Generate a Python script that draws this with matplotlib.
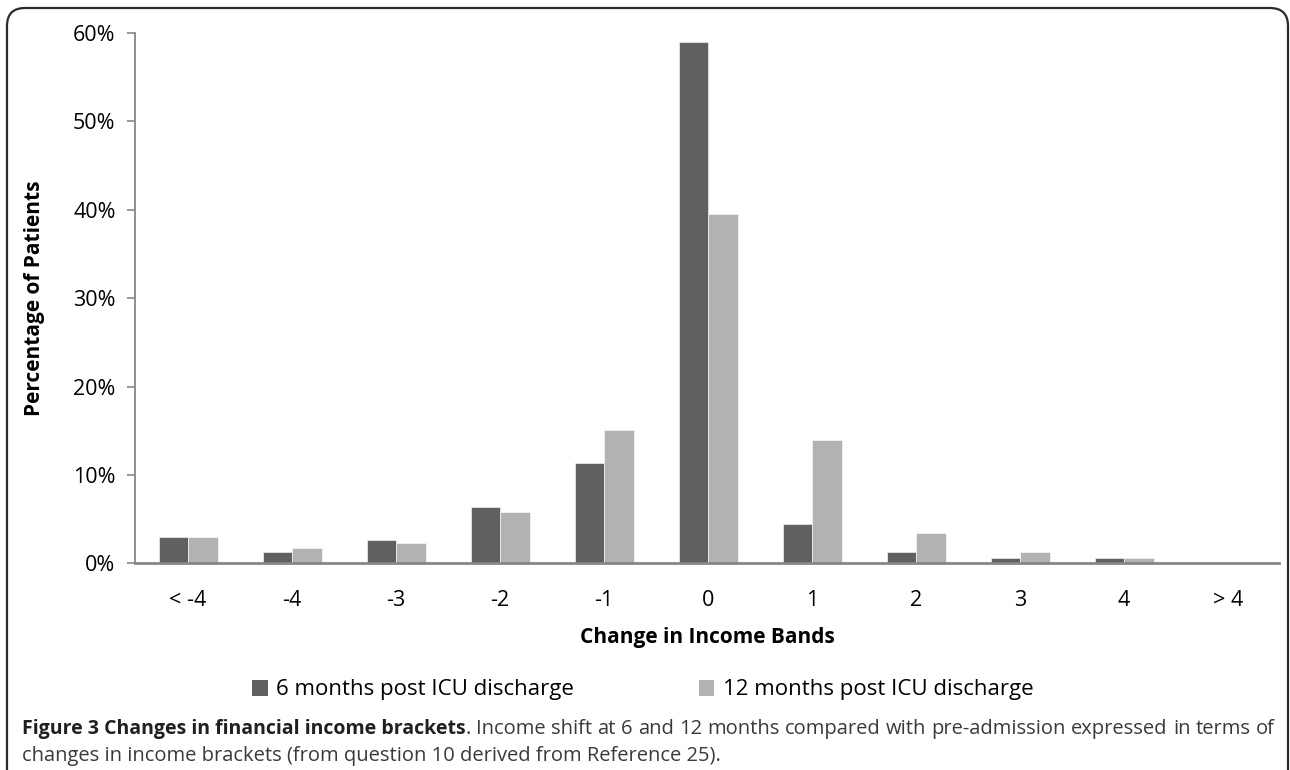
#!/usr/bin/env python3
"""Change in income bands at 6 and 12 months post ICU discharge (grouped bars)."""
import matplotlib
matplotlib.use("Agg")
import matplotlib.pyplot as plt
from matplotlib.patches import Patch, FancyBboxPatch
from matplotlib.transforms import IdentityTransform
from matplotlib.ticker import FuncFormatter
import numpy as np

categories = ["< -4", "-4", "-3", "-2", "-1", "0", "1", "2", "3", "4", "> 4"]
six_months = [3.0, 1.3, 2.6, 6.4, 11.3, 59.0, 4.4, 1.3, 0.6, 0.6, 0.0]
twelve_months = [3.0, 1.7, 2.3, 5.8, 15.1, 39.5, 14.0, 3.4, 1.3, 0.6, 0.0]
series_names = ["6 months post ICU discharge", "12 months post ICU discharge"]
y_ticks = [0, 10, 20, 30, 40, 50, 60]

caption_bold = "Figure 3 Changes in financial income brackets"
caption_line1 = ". Income shift at 6 and 12 months compared with pre-admission expressed in terms of"
caption_line2 = "changes in income brackets (from question 10 derived from Reference 25)."

DARK = "#606060"
LIGHT = "#b2b2b2"
AXIS_GREY = "#868686"
FONT = ["Open Sans", "DejaVu Sans"]

plt.rcParams["font.family"] = FONT

W, H, DPI = 1290, 770, 100
fig = plt.figure(figsize=(W / DPI, H / DPI), dpi=DPI)
ax = fig.add_axes([135 / W, 1 - 563.3 / H, (1279 - 135) / W, (563.3 - 33) / H])

x = np.arange(len(categories))
bw = 0.284
ax.bar(x - bw / 2, six_months, bw, color=DARK, edgecolor="white", linewidth=0.4)
ax.bar(x + bw / 2, twelve_months, bw, color=LIGHT, edgecolor="white", linewidth=0.4)

ax.set_xlim(-0.51, 10.49)
ax.set_ylim(0, 60)
ax.set_yticks(y_ticks)
ax.yaxis.set_major_formatter(FuncFormatter(lambda v, _: f"{v:.0f}%"))
ax.set_xticks(x)
ax.set_xticklabels(categories)

for s in ["top", "right"]:
    ax.spines[s].set_visible(False)
ax.spines["left"].set_color(AXIS_GREY)
ax.spines["left"].set_linewidth(1.3)
ax.spines["bottom"].set_color(AXIS_GREY)
ax.spines["bottom"].set_linewidth(2.0)
ax.tick_params(axis="y", direction="out", length=6, width=1.2, color=AXIS_GREY,
               labelsize=15.5, pad=8, labelcolor="black")
ax.tick_params(axis="x", length=0, labelsize=15.5, pad=19, labelcolor="black")

ax.set_xlabel("Change in Income Bands", fontsize=15, fontweight="bold", labelpad=12)
ax.set_ylabel("Percentage of Patients", fontsize=15, fontweight="bold", labelpad=20)

handles = [Patch(facecolor=DARK), Patch(facecolor=LIGHT)]
fig.legend(handles, series_names, loc="center left", bbox_to_anchor=(252 / W, 1 - 690 / H),
           ncol=2, frameon=False, fontsize=16, handlelength=0.7, handleheight=0.7,
           handletextpad=0.4, columnspacing=5.6, borderaxespad=0, borderpad=0)

# caption: bold lead, then a justified first line and a ragged second line
bold_size, cap_size = 14, 14.5
x0, x1 = 22, 1275
y1 = 1 - 729 / H
y2 = 1 - 756 / H
lead = fig.text(x0 / W, y1, caption_bold, fontsize=bold_size, fontweight="bold",
                color="#231f20", va="center")
fig.canvas.draw()
renderer = fig.canvas.get_renderer()
start = lead.get_window_extent(renderer).x1
words = caption_line1.split(" ")
pieces = [fig.text(0, y1, w, fontsize=cap_size, color="#3a3a3a", va="center") for w in words]
widths = [p.get_window_extent(renderer).width for p in pieces]
gap = (x1 - start - sum(widths)) / (len(words) - 1)
pos = start
for p, w in zip(pieces, widths):
    p.set_x(pos / W)
    pos += w + gap
fig.text(x0 / W, y2, caption_line2, fontsize=cap_size, color="#3a3a3a", va="center")

# rounded frame round the figure panel
frame = FancyBboxPatch((7, -30), 1281, H - 8 + 30, boxstyle="round,pad=0,rounding_size=18",
                       transform=IdentityTransform(), fill=False, edgecolor="#2b2b2b", linewidth=1.6)
fig.patches.append(frame)

fig.savefig("out.png", dpi=DPI)
